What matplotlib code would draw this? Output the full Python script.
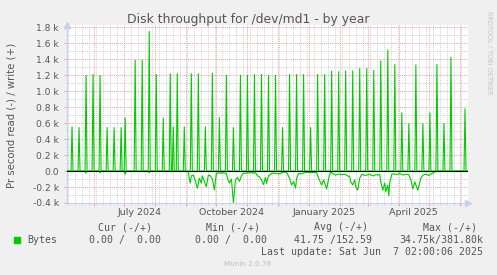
import matplotlib
matplotlib.use("Agg")
import numpy as np
import matplotlib.pyplot as plt
import matplotlib.dates as mdates
from matplotlib.ticker import MultipleLocator
from datetime import datetime

W, H = 497, 275

start = datetime(2024, 5, 5)
end = datetime(2025, 6, 9)

# write spikes (days since start, bytes/s)
write_day = [5, 12, 19, 26, 33, 40, 47, 54, 58, 68, 75, 82, 89, 96, 103, 106,
             110, 117, 124, 131, 138, 145, 152, 159, 166, 173, 180, 187, 194,
             201, 208, 215, 222, 229, 236, 243, 250, 257, 264, 271, 278, 285,
             292, 299, 306, 313, 320, 327, 334, 341, 348, 355, 362, 369, 376,
             383, 397]
write_val = [555, 545, 1200, 1210, 1200, 545, 545, 545, 665, 1390, 1390, 1750,
             1210, 665, 1220, 555, 1220, 555, 1220, 1220, 555, 1225, 670, 1200,
             545, 1200, 1200, 1210, 1210, 1200, 1200, 545, 1210, 1210, 1210,
             545, 1210, 1210, 1255, 1245, 1255, 1255, 1285, 1285, 1260, 1380,
             1515, 1335, 730, 595, 1330, 595, 730, 1335, 595, 1425, 780]

# reads (days since start, bytes/s, drawn negative)
read_day = [0, 18, 19, 20, 32, 33, 34, 57, 58, 59, 81, 82, 83, 120,
            121, 122, 123, 124, 126, 128, 130, 132, 134, 135, 137, 139, 141,
            143, 145, 147, 149, 151, 153, 155, 157, 159, 160, 162, 164, 166,
            168, 170, 172, 174, 176, 178, 180, 182, 184, 186, 188, 190, 192,
            194, 196, 198, 199, 201, 204, 207, 210, 213, 216, 219, 222, 224,
            226, 228, 229, 231, 234, 237, 240, 243, 246, 249, 251, 254, 256,
            259, 261, 263, 265, 268, 271, 274, 277, 280, 282, 283, 285, 287,
            288, 290, 292, 294, 296, 298, 300, 302, 304, 306, 308, 310, 312,
            313, 315, 317, 318, 320, 321, 322, 324, 326, 329, 332, 335, 338,
            341, 343, 345, 347, 348, 350, 352, 353, 355, 358, 361, 364, 366,
            368, 400]
read_val = [0, 0, 25, 0, 0, 20, 0, 0, 40, 0, 0, 20, 0, 0,
            10, 100, 150, 60, 50, 120, 215, 90, 150, 60, 130, 195, 50,
            60, 100, 235, 30, 20, 30, 20, 25, 30, 90, 150, 100, 395,
            110, 80, 130, 60, 25, 30, 20, 25, 15, 30, 20, 60, 70,
            110, 170, 80, 155, 60, 30, 25, 35, 30, 10, 15, 90, 175,
            130, 215, 90, 30, 35, 20, 15, 20, 15, 20, 90, 175, 110,
            225, 90, 10, 30, 50, 35, 45, 40, 60, 70, 135, 175, 110,
            195, 240, 90, 40, 50, 55, 45, 40, 55, 60, 45, 50, 40,
            135, 240, 150, 260, 175, 310, 135, 40, 35, 45, 30, 50, 40,
            45, 110, 220, 135, 175, 240, 135, 90, 50, 40, 55, 30, 20,
            0, 0]

ytick_vals = [-400, -200, 0, 200, 400, 600, 800, 1000, 1200, 1400, 1600, 1800]
ytick_labels = ["-0.4 k", "-0.2 k", "0.0", "0.2 k", "0.4 k", "0.6 k", "0.8 k",
                "1.0 k", "1.2 k", "1.4 k", "1.6 k", "1.8 k"]
xlabel_dates = [datetime(2024, 7, 16), datetime(2024, 10, 16),
                datetime(2025, 1, 16), datetime(2025, 4, 16)]
xlabel_text = ["July 2024", "October 2024", "January 2025", "April 2025"]

GREEN = "#00CC00"
FONT = "#555555"
AXIS = "#C8CFF5"
MGRID = "#EBA3A3"
GRID = "#D2D2D2"

fig = plt.figure(figsize=(W / 100, H / 100), dpi=100, facecolor="#F0F0F0")
ax = fig.add_axes([67 / W, (H - 203) / H, 401 / W, 178 / H])
ax.set_facecolor("white")

t0 = mdates.date2num(start)
days = np.arange(0, 401)
write = np.zeros(len(days))
write[write_day] = write_val

ax.plot(t0 + days, write, color=GREEN, lw=0.8, zorder=3)
ax.plot(t0 + np.array(read_day), -np.array(read_val), color=GREEN, lw=0.8, zorder=3)
ax.axhline(0, color="black", lw=0.8, zorder=4)

ax.set_xlim(t0, mdates.date2num(end))
ax.set_ylim(-400, 1830)

# grid
ax.xaxis.set_major_locator(mdates.MonthLocator())
ax.xaxis.set_minor_locator(mdates.WeekdayLocator(byweekday=mdates.MO))
ax.set_xticklabels([])
ax.yaxis.set_minor_locator(MultipleLocator(100))
ax.set_yticks(ytick_vals)
ax.set_yticklabels(ytick_labels)
ax.set_axisbelow(True)
ax.grid(which="major", color=MGRID, ls=(0, (1, 1)), lw=0.7)
ax.grid(which="minor", color=GRID, ls=(0, (1, 1)), lw=0.7)

ax.tick_params(axis="x", which="major", length=2.5, width=0.7, color=MGRID)
ax.tick_params(axis="x", which="minor", length=1.5, width=0.7, color=GRID)
ax.tick_params(axis="y", which="major", length=2, width=0.7, color=MGRID,
               pad=4, labelsize=6.6, labelcolor=FONT)
ax.tick_params(axis="y", which="minor", length=1, width=0.7, color=GRID)

for s in ["top", "right"]:
    ax.spines[s].set_visible(False)
for s in ["left", "bottom"]:
    ax.spines[s].set_color(AXIS)
    ax.spines[s].set_linewidth(0.8)

# arrows at the axis ends
ax.plot([0], [1.0], marker="^", ms=4, color=AXIS, transform=ax.transAxes,
        clip_on=False, zorder=5)
ax.plot([1.0], [0], marker=">", ms=4, color=AXIS, transform=ax.transAxes,
        clip_on=False, zorder=5)

trans = ax.get_xaxis_transform()
for d, lab in zip(xlabel_dates, xlabel_text):
    ax.text(mdates.date2num(d), -0.052, lab, transform=trans, ha="center",
            va="center", fontsize=6.8, color=FONT)

def ftext(x, y, s, **kw):
    fig.text(x / W, 1 - y / H, s, **kw)

ftext(248, 19, "Disk throughput for /dev/md1 - by year", ha="center",
      va="center", fontsize=8.9, color=FONT)
ftext(12, 115, "Pr second read (-) / write (+)", ha="center", va="center",
      rotation=90, fontsize=7.3, color=FONT)
ftext(488.5, 53, "RRDTOOL / TOBI OETIKER", ha="center", va="center",
      rotation=270, fontsize=4.7, color="#C4C4C4")

mono = dict(family="DejaVu Sans Mono", fontsize=7.1, color=FONT, va="center")
ftext(125, 227, "Cur (-/+)", ha="center", **mono)
ftext(233, 227, "Min (-/+)", ha="center", **mono)
ftext(341, 227, "Avg (-/+)", ha="center", **mono)
ftext(450, 227, "Max (-/+)", ha="center", **mono)
fig.patches.append(plt.Rectangle((14 / W, 1 - 243 / H), 6 / W, 6 / H,
                                 transform=fig.transFigure, color=GREEN))
ftext(27, 240, "Bytes", ha="left", **mono)
ftext(161, 240, "0.00 /  0.00", ha="right", **mono)
ftext(267, 240, "0.00 /  0.00", ha="right", **mono)
ftext(372, 240, "41.75 /152.59", ha="right", **mono)
ftext(483, 240, "34.75k/381.80k", ha="right", **mono)
ftext(483, 252, "Last update: Sat Jun  7 02:00:06 2025", ha="right", **mono)
ftext(248, 264, "Munin 2.0.76", ha="center", va="center", fontsize=5.2,
      color="#BDBDBD")

fig.savefig("out.png", dpi=100, facecolor=fig.get_facecolor())
